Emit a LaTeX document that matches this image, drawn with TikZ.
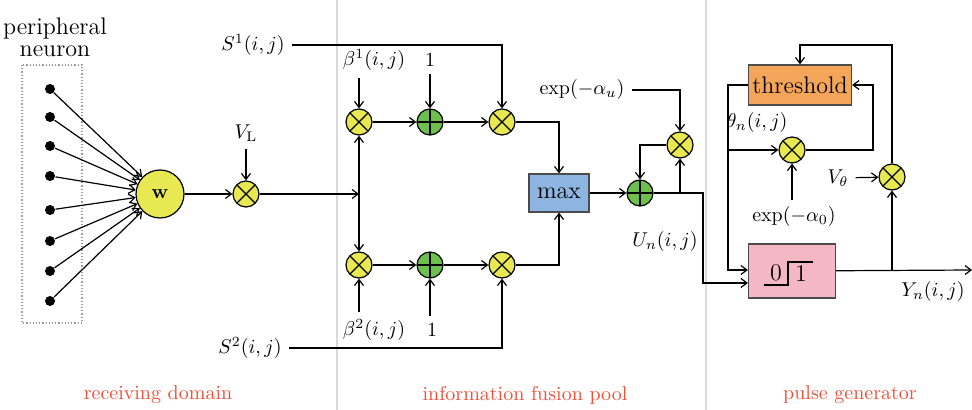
\documentclass[tikz,border=0pt]{standalone}
\usepackage{amsmath}
\usepackage{tikz}
\usetikzlibrary{arrows.meta}

\definecolor{mulyellow}{RGB}{232,232,82}
\definecolor{addgreen}{RGB}{110,192,78}
\definecolor{maxblue}{RGB}{142,180,226}
\definecolor{throrange}{RGB}{244,165,90}
\definecolor{pulsepink}{RGB}{244,184,196}
\definecolor{domred}{RGB}{240,78,55}

\tikzset{
  mul/.style={circle, draw, fill=mulyellow, minimum size=13pt, inner sep=0pt,
    path picture={\draw (path picture bounding box.north west) -- (path picture bounding box.south east)
      (path picture bounding box.north east) -- (path picture bounding box.south west);}},
  add/.style={circle, draw, fill=addgreen, minimum size=13pt, inner sep=0pt,
    path picture={\draw (path picture bounding box.north) -- (path picture bounding box.south)
      (path picture bounding box.west) -- (path picture bounding box.east);}},
  dot/.style={circle, fill, minimum size=5pt, inner sep=0pt},
  domlabel/.style={text=domred},
}

\begin{document}
\begin{tikzpicture}[x=0.5pt, y=-0.5pt, semithick, >={Straight Barb[length=3pt,width=4.5pt]}]
  \useasboundingbox (0,0) rectangle (972,410);

  % Separators
  \draw[black!15, line width=1pt] (337,0) -- (337,410);
  \draw[black!15, line width=1pt] (706,0) -- (706,410);

  % Receiving domain
  \node[align=center, inner sep=0pt, font=\large] (periph) at (55,37) {peripheral\\[-3pt]neuron};
  \draw[black!40, densely dotted] (22,65) rectangle (82,323);
  \node[circle, draw, fill=mulyellow, minimum size=24pt, inner sep=0pt, font=\bfseries] (w) at (160,194) {w};
  \foreach \y [count=\i] in {89,117,146,176,210,241,271,301} {
    \node[dot] (d\i) at (50,\y) {};
    \draw[->] (d\i) -- (w);
  }
  \node[mul] (vl) at (246,194) {};
  \node (vllab) at (246,133) {$V_{\mathrm{L}}$};
  \draw[->] (vllab) -- (vl);
  \draw[->] (w) -- (vl);
  \node[domlabel] (rd) at (158,395) {receiving domain};

  % Information fusion pool
  \node (s1) at (253,45) {$S^1(i,j)$};
  \node (s2) at (250,348) {$S^2(i,j)$};
  \node[mul] (mTa) at (359,122) {};
  \node[add] (pT) at (430,122) {};
  \node[mul] (mTb) at (502,122) {};
  \node[mul] (mBa) at (359,265) {};
  \node[add] (pB) at (430,265) {};
  \node[mul] (mBb) at (502,265) {};
  \node (b1) at (374,60) {$\beta^1(i,j)$};
  \node (one1) at (430,60) {$1$};
  \node (b2) at (374,330) {$\beta^2(i,j)$};
  \node (one2) at (432,330) {$1$};
  \coordinate (jn) at (359,194);
  \draw[->] (vl) -- (jn);
  \draw[->] (jn) -- (mTa);
  \draw[->] (jn) -- (mBa);
  \draw[->] (b1.south -| mTa) -- (mTa);
  \draw[->] (b2.north -| mBa) -- (mBa);
  \draw[->] (one1) -- (pT);
  \draw[->] (one2.north -| pB) -- (pB);
  \draw[->] (mTa) -- (pT);
  \draw[->] (pT) -- (mTb);
  \draw[->] (mBa) -- (pB);
  \draw[->] (pB) -- (mBb);
  \draw[->] (s1) -| (mTb);
  \draw[->] (s2) -| (mBb);
  \node[draw=black!70, fill=maxblue, minimum width=30pt, minimum height=19pt, font=\large] (max) at (559,193) {max};
  \draw[->] (mTb) -| (max);
  \draw[->] (mBb) -| (max);
  \node[add] (pU) at (640,193) {};
  \draw[->] (max) -- (pU);
  \node[mul] (mU) at (680,145) {};
  \node (expu) at (582,90) {$\exp(-\alpha_u)$};
  \draw[->] (expu) -| (mU);
  \coordinate (ju) at (680,193);
  \draw (pU) -- (ju);
  \draw[->] (ju) -- (mU);
  \draw[->] (mU) -| (pU);
  \node (un) at (665,242) {$U_n(i,j)$};
  \node[domlabel] (ifp) at (525,395) {information fusion pool};

  % Pulse generator
  \node[draw=black!70, fill=throrange, minimum width=51.5pt, minimum height=20pt, inner xsep=1pt, font=\large] (thr) at (800,85) {threshold};
  \node[draw=black!70, fill=pulsepink, minimum width=43.5pt, minimum height=27pt] (pulse) at (792,271) {};
  \draw (764,285) -- (788,285) -- (788,262) -- (813,262);
  \node[font=\large] (zero) at (776,273) {0};
  \node[font=\large] (onep) at (801,274) {1};
  \coordinate (uc) at (703,193);
  \draw[->] (ju) -- (uc) |- ([yshift=-6pt]pulse.west);
  \coordinate (tl) at (728,85);
  \coordinate (tb) at (728,150);
  \draw[->] (thr.west) -- (tl) |- ([yshift=0.5pt]pulse.west);
  \node (theta) at (757,123) {$\theta_n(i,j)$};
  \node[mul] (mTh) at (792,150) {};
  \draw[->] (tb) -- (mTh);
  \coordinate (tr) at (873,150);
  \draw[->] (mTh) -- (tr) |- (thr.east);
  \node (expo) at (794,217) {$\exp(-\alpha_0)$};
  \draw[->] (expo.north -| mTh) -- (mTh);
  \node[mul] (mY) at (892,177) {};
  \node (vth) at (838,178) {$V_\theta$};
  \draw[->] (vth) -- (mY);
  \coordinate (jy) at (892,270);
  \coordinate (yend) at (972,270);
  \draw[->] (pulse) -- (yend);
  \draw[->] (jy) -- (mY);
  \coordinate (tt) at (892,45);
  \draw[->] (mY) -- (tt) -| (thr);
  \node (yn) at (933,292) {$Y_n(i,j)$};
  \node[domlabel] (pg) at (850,395) {pulse generator};
\end{tikzpicture}
\end{document}
